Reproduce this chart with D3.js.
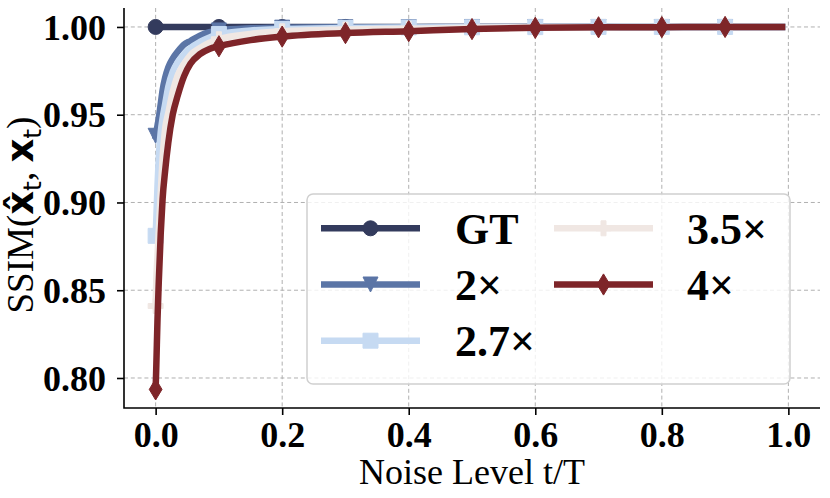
<!DOCTYPE html>
<html>
<head>
<meta charset="utf-8">
<script src="https://cdn.jsdelivr.net/npm/d3@7"></script>
<style>
  html, body { margin: 0; padding: 0; background: #ffffff; }
  svg { display: block; }
</style>
</head>
<body>
<svg id="chart" width="830" height="498"></svg>
<script>
// noise level t/T at which each series was sampled
const tValues = [0, 0.001, 0.003, 0.005, 0.008, 0.011, 0.015, 0.02, 0.027, 0.035, 0.045, 0.055,
                 0.07, 0.085, 0.1, 0.15, 0.2, 0.3, 0.4, 0.5, 0.6, 0.7, 0.8, 0.9, 0.99];
// marker positions (every 0.1)
const markerT = [0, 0.1, 0.2, 0.3, 0.4, 0.5, 0.6, 0.7, 0.8, 0.9];

const ssimGT  = [1, 1, 1, 1, 1, 1, 1, 1, 1, 1, 1, 1, 1, 1, 1, 1, 1, 1, 1, 1, 1, 1, 1, 1, 1];
const ssim2x  = [0.938, 0.940, 0.944, 0.948, 0.956, 0.964, 0.971, 0.977, 0.982, 0.986, 0.990, 0.992,
                 0.995, 0.997, 0.998, 0.9992, 0.9996, 0.9998, 0.9999, 1, 1, 1, 1, 1, 1];
const ssim27x = [0.881, 0.890, 0.910, 0.926, 0.940, 0.948, 0.956, 0.966, 0.9745, 0.980, 0.9845, 0.988,
                 0.9915, 0.994, 0.996, 0.998, 0.9988, 0.9994, 0.9997, 0.9998, 0.9999, 1, 1, 1, 1];
const ssim35x = [0.841, 0.855, 0.870, 0.884, 0.905, 0.925, 0.942, 0.951, 0.963, 0.9725, 0.979, 0.984,
                 0.988, 0.991, 0.993, 0.996, 0.9975, 0.9985, 0.999, 0.9995, 0.9998, 0.9999, 1, 1, 1];
const ssim4x  = [0.7935, 0.806, 0.834, 0.855, 0.882, 0.902, 0.918, 0.934, 0.950, 0.961, 0.972, 0.979,
                 0.9845, 0.9875, 0.989, 0.9925, 0.9945, 0.9965, 0.9976, 0.9988, 0.9995, 0.9998, 0.9999, 1, 1];

const seriesNames = ['GT', '2×', '2.7×', '3.5×', '4×'];
const xTicks = [0, 0.2, 0.4, 0.6, 0.8, 1.0];
const yTicks = [0.80, 0.85, 0.90, 0.95, 1.00];

/* **************************************************************** *
 *   Styles
 * **************************************************************** */
const colors  = ['#333b5d', '#5b75a6', '#c6daf2', '#f0e7e3', '#7e2529'];
const markers = ['circle', 'triangleDown', 'square', 'plus', 'thinDiamond'];

const frame = { left: 124, right: 820, top: 8, bottom: 408 };
const serif = '"Liberation Serif", "Times New Roman", serif';
const sans  = '"DejaVu Sans", sans-serif';

const svg = d3.select('#chart');

/* **************************************************************** *
 *   Scale
 * **************************************************************** */
const x = d3.scaleLinear().domain([-0.05, 1.05]).range([frame.left, frame.right]);
const y = d3.scaleLinear().domain([0.7829, 1.0108]).range([frame.bottom, frame.top]);

/* **************************************************************** *
 *   Markers
 * **************************************************************** */
let markerPath = (type, s) => {
    let h = s / 2;
    if (type == 'circle')
        return d3.symbol(d3.symbolCircle, Math.PI * h * h)();
    if (type == 'square')
        return d3.symbol(d3.symbolSquare, s * s)();
    if (type == 'plus')
        return d3.symbol(d3.symbolCross, (s / 3) * (s / 3) * 5)();
    if (type == 'triangleDown')
        return `M${-h},${-h}L${h},${-h}L0,${h}Z`;
    // thin diamond: diagonal s*sqrt(2), squeezed horizontally
    let dh = s * Math.SQRT2 / 2, dw = dh * 0.6;
    return `M0,${-dh}L${dw},0L0,${dh}L${-dw},0Z`;
};

/* **************************************************************** *
 *   Grid
 * **************************************************************** */
const gGrid = svg.append('g').attr('class', 'grid');

gGrid.selectAll('line.gx')
    .data(xTicks)
    .enter()
    .append('line')
    .attr('class', 'gx')
    .attr('x1', (d) => x(d)).attr('x2', (d) => x(d))
    .attr('y1', frame.top).attr('y2', frame.bottom);

gGrid.selectAll('line.gy')
    .data(yTicks)
    .enter()
    .append('line')
    .attr('class', 'gy')
    .attr('x1', frame.left).attr('x2', frame.right)
    .attr('y1', (d) => y(d)).attr('y2', (d) => y(d));

gGrid.selectAll('line')
    .attr('stroke', '#b0b0b0')
    .attr('stroke-width', 1)
    .attr('stroke-dasharray', '4,2.8');

/* **************************************************************** *
 *   Lines
 * **************************************************************** */
const allSeries = [ssimGT, ssim2x, ssim27x, ssim35x, ssim4x].map((vals, i) => ({
    name: seriesNames[i],
    color: colors[i],
    marker: markers[i],
    points: tValues.map((t, j) => ({ t: t, v: vals[j] }))
}));

const line = d3.line()
    .x((d) => x(d.t))
    .y((d) => y(d.v))
    .curve(d3.curveMonotoneX);

const gLines = svg.append('g').attr('class', 'lines');

allSeries.forEach((s) => {
    let g = gLines.append('g');

    g.append('path')
        .attr('d', line(s.points))
        .attr('fill', 'none')
        .attr('stroke', s.color)
        .attr('stroke-width', 6.5)
        .attr('stroke-linejoin', 'round')
        .attr('stroke-linecap', 'square');

    g.selectAll('path.marker')
        .data(s.points.filter((d) => markerT.indexOf(d.t) >= 0))
        .enter()
        .append('path')
        .attr('class', 'marker')
        .attr('d', markerPath(s.marker, 15))
        .attr('transform', (d) => 'translate(' + x(d.t) + ',' + y(d.v) + ')')
        .attr('fill', s.color)
        .attr('stroke', s.color)
        .attr('stroke-width', 1);
});

/* **************************************************************** *
 *   Axes
 * **************************************************************** */
const xAxis = svg.append('g')
    .attr('transform', 'translate(0,' + frame.bottom + ')')
    .call(d3.axisBottom(x).tickValues(xTicks).tickFormat(d3.format('.1f')).tickSizeOuter(0).tickSize(7).tickPadding(6));

const yAxis = svg.append('g')
    .attr('transform', 'translate(' + frame.left + ',0)')
    .call(d3.axisLeft(y).tickValues(yTicks).tickFormat(d3.format('.2f')).tickSizeOuter(0).tickSize(7).tickPadding(11));

[xAxis, yAxis].forEach((ax) => {
    ax.select('.domain').remove();
    ax.selectAll('.tick line').attr('stroke', '#000').attr('stroke-width', 1.6);
    ax.selectAll('.tick text')
        .attr('fill', '#000')
        .style('font-family', serif)
        .style('font-size', '36px')
        .style('font-weight', 'bold');
});
yAxis.selectAll('.tick text').attr('dy', '0.34em');

// spines: left and bottom only
svg.append('path')
    .attr('d', `M${frame.left},${frame.top}V${frame.bottom}H${frame.right}`)
    .attr('fill', 'none')
    .attr('stroke', '#000')
    .attr('stroke-width', 1.6);

svg.append('text')
    .attr('x', (frame.left + frame.right) / 2)
    .attr('y', 484)
    .attr('text-anchor', 'middle')
    .style('font-family', serif)
    .style('font-size', '36px')
    .text('Noise Level t/T');

const yLabel = svg.append('text')
    .attr('transform', 'translate(33,215) rotate(-90)')
    .attr('text-anchor', 'middle')
    .style('font-family', serif)
    .style('font-size', '37px');
yLabel.append('tspan').text('SSIM(');
yLabel.append('tspan').style('font-family', sans).style('font-weight', 'bold').text('x\u0302');
yLabel.append('tspan').style('font-family', sans).style('font-size', '25px').attr('dy', 8).text('t');
yLabel.append('tspan').attr('dy', -8).text(', ');
yLabel.append('tspan').style('font-family', sans).style('font-weight', 'bold').text('x');
yLabel.append('tspan').style('font-family', sans).style('font-size', '25px').attr('dy', 8).text('t');
yLabel.append('tspan').attr('dy', -8).text(')');

/* **************************************************************** *
 *   Legend
 * **************************************************************** */
const legend = { x: 307, y: 194, w: 483, h: 190, rows: 3, rowH: 56.2, row0: 228.3,
                 cols: [{ x1: 321, x2: 420, tx: 455 }, { x1: 554, x2: 653, tx: 687 }] };

const gLegend = svg.append('g').attr('class', 'legend');

gLegend.append('rect')
    .attr('x', legend.x).attr('y', legend.y)
    .attr('width', legend.w).attr('height', legend.h)
    .attr('rx', 6).attr('ry', 6)
    .attr('fill', '#fff').attr('fill-opacity', 0.8)
    .attr('stroke', '#d0d0d0').attr('stroke-width', 1.5);

allSeries.forEach((s, i) => {
    let col = legend.cols[Math.floor(i / legend.rows)];
    let cy = legend.row0 + (i % legend.rows) * legend.rowH;
    let g = gLegend.append('g');

    g.append('line')
        .attr('x1', col.x1).attr('x2', col.x2)
        .attr('y1', cy).attr('y2', cy)
        .attr('stroke', s.color)
        .attr('stroke-width', 6.5);

    g.append('path')
        .attr('d', markerPath(s.marker, 15))
        .attr('transform', 'translate(' + (col.x1 + col.x2) / 2 + ',' + cy + ')')
        .attr('fill', s.color)
        .attr('stroke', s.color)
        .attr('stroke-width', 1);

    g.append('text')
        .attr('x', col.tx)
        .attr('y', cy + 15.5)
        .style('font-family', serif)
        .style('font-size', '44px')
        .style('font-weight', 'bold')
        .text(s.name);
});
</script>
</body>
</html>
